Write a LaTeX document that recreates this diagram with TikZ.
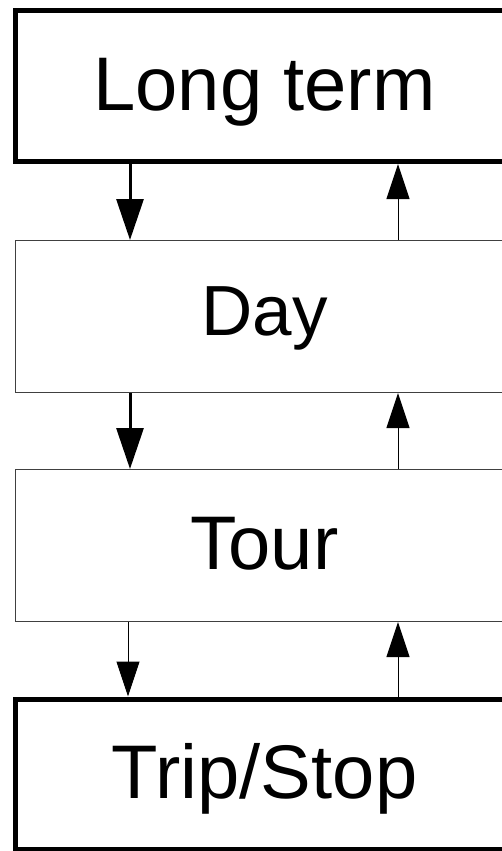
\documentclass[tikz,border=0pt]{standalone}
\usepackage{fontspec}
\setmainfont{Liberation Sans}
\usetikzlibrary{arrows.meta}

\tikzset{
  level/.style={draw=black!75, line width=1pt, minimum width=498pt, minimum height=152pt,
    inner sep=0pt, text height=48pt, text depth=0pt, font=\fontsize{76}{80}\selectfont},
  levelthick/.style={level, draw=black, line width=5pt, minimum height=151pt},
  downbig/.style={line width=3pt, -{Triangle[length=41pt,width=27pt]}},
  thinarrow/.style={line width=1pt, -{Triangle[length=35pt,width=23pt]}}
}

\begin{document}
\begin{tikzpicture}[x=1pt, y=-1pt]
    \useasboundingbox (0,0) rectangle (502,851);

    % The four levels, top to bottom
    \node[levelthick] (long) at (264.5,86) {Long term};
    \node[level, text height=37pt, font=\fontsize{71}{75}\selectfont] (day) at (264.5,316.5) {Day};
    \node[level] (tour) at (264.5,545.5) {Tour};
    \node[levelthick, minimum height=150pt] (trip) at (264.5,774) {Trip/Stop};

    % Going down (left side)
    \draw[downbig] ([xshift=117pt]long.south west) -- ([xshift=115pt]day.north west);
    \draw[downbig] ([xshift=115pt]day.south west) -- ([xshift=115pt]tour.north west);
    \draw[thinarrow] ([xshift=113pt]tour.south west) -- ([xshift=115pt]trip.north west);

    % Going up (right side)
    \draw[thinarrow] ([xshift=383pt]day.north west) -- ([xshift=385pt]long.south west);
    \draw[thinarrow] ([xshift=383pt]tour.north west) -- ([xshift=383pt]day.south west);
    \draw[thinarrow] ([xshift=385pt]trip.north west) -- ([xshift=383pt]tour.south west);

\end{tikzpicture}
\end{document}
